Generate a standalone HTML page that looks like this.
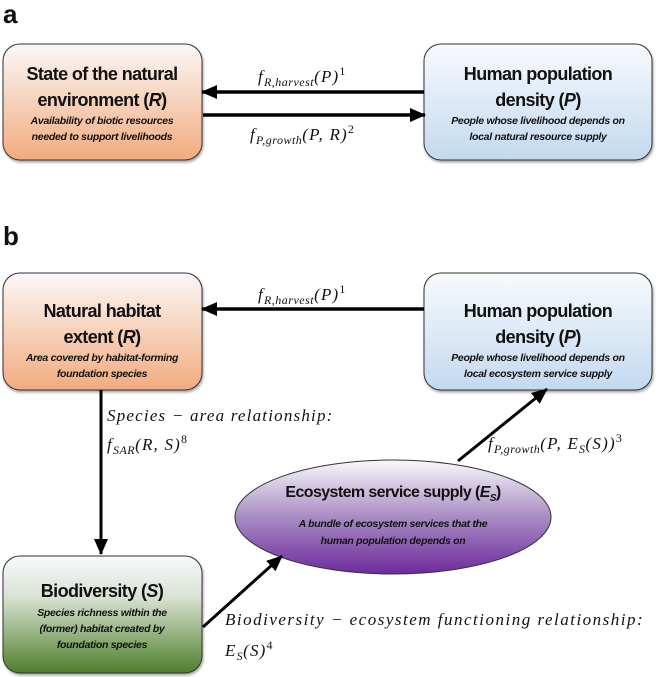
<!DOCTYPE html>
<html><head><meta charset="utf-8"><style>
html,body{margin:0;padding:0;background:#fff}
svg{display:block}
.t{font-family:"Liberation Sans",sans-serif;font-weight:bold;font-size:18px;fill:#111;text-anchor:middle;letter-spacing:-0.6px}
.s{font-family:"Liberation Sans",sans-serif;font-weight:bold;font-style:italic;font-size:10.5px;fill:#111;text-anchor:middle;letter-spacing:-0.3px}
.m{font-family:"Liberation Serif",serif;font-style:italic;font-size:17px;fill:#111;letter-spacing:1.2px}
.sub{font-size:12px;letter-spacing:0.5px}
.L{font-family:"Liberation Sans",sans-serif;font-weight:bold;font-size:26px;fill:#111}
</style></head><body>
<svg width="661" height="677" viewBox="0 0 661 677" xmlns="http://www.w3.org/2000/svg">
<defs>
<linearGradient id="or" x1="0" y1="0" x2="0" y2="1"><stop offset="0" stop-color="#fbf7f8"/><stop offset="1" stop-color="#f2ab7e"/></linearGradient>
<linearGradient id="bl" x1="0" y1="0" x2="0" y2="1"><stop offset="0" stop-color="#f7fafd"/><stop offset="1" stop-color="#c3d9ef"/></linearGradient>
<linearGradient id="gr" x1="0" y1="0" x2="0" y2="1"><stop offset="0" stop-color="#f7fafb"/><stop offset="0.35" stop-color="#d8e2d2"/><stop offset="1" stop-color="#4f7f2c"/></linearGradient>
<linearGradient id="pu" x1="0" y1="0" x2="0" y2="1"><stop offset="0" stop-color="#f8f9fc"/><stop offset="0.5" stop-color="#a88cc3"/><stop offset="1" stop-color="#6e2a9c"/></linearGradient>
<marker id="ah" markerWidth="16" markerHeight="14" refX="15" refY="7" orient="auto" markerUnits="userSpaceOnUse" viewBox="0 0 16 14"><path d="M0,0 L16,7 L0,14 z" fill="#000"/></marker>
<filter id="sh" x="-5%" y="-5%" width="110%" height="115%"><feDropShadow dx="1" dy="2" stdDeviation="1.2" flood-opacity="0.35"/></filter>
</defs>
<text class="L" x="3" y="23">a</text>
<text class="L" x="3" y="245">b</text>

<!-- panel a -->
<rect x="3" y="44" width="199" height="116" rx="17" fill="url(#or)" stroke="#333" stroke-width="1" filter="url(#sh)"/>
<text class="t" x="102" y="80">State of the natural</text>
<text class="t" x="102" y="106">environment (<tspan font-style="italic">R</tspan>)</text>
<text class="s" x="102" y="124">Availability of biotic resources</text>
<text class="s" x="102" y="140">needed to support livelihoods</text>

<rect x="424" y="44" width="228" height="116" rx="17" fill="url(#bl)" stroke="#333" stroke-width="1" filter="url(#sh)"/>
<text class="t" x="538" y="80">Human population</text>
<text class="t" x="538" y="106">density (<tspan font-style="italic">P</tspan>)</text>
<text class="s" x="538" y="124">People whose livelihood depends on</text>
<text class="s" x="538" y="140">local natural resource supply</text>

<line x1="424" y1="92" x2="202" y2="92" stroke="#000" stroke-width="3.5" marker-end="url(#ah)"/>
<line x1="203" y1="115" x2="425" y2="115" stroke="#000" stroke-width="3.5" marker-end="url(#ah)"/>
<text class="m" x="258" y="82">f<tspan class="sub" dy="4">R,harvest</tspan><tspan dy="-4">(P)</tspan><tspan class="sub" dy="-7" font-style="normal">1</tspan></text>
<text class="m" x="250" y="140">f<tspan class="sub" dy="4">P,growth</tspan><tspan dy="-4">(P, R)</tspan><tspan class="sub" dy="-7" font-style="normal">2</tspan></text>

<!-- panel b -->
<rect x="3" y="273" width="199" height="117" rx="17" fill="url(#or)" stroke="#333" stroke-width="1" filter="url(#sh)"/>
<text class="t" x="102" y="317">Natural habitat</text>
<text class="t" x="102" y="343">extent (<tspan font-style="italic">R</tspan>)</text>
<text class="s" x="102" y="361">Area covered by habitat-forming</text>
<text class="s" x="102" y="377">foundation species</text>

<rect x="424" y="273" width="228" height="117" rx="17" fill="url(#bl)" stroke="#333" stroke-width="1" filter="url(#sh)"/>
<text class="t" x="538" y="317">Human population</text>
<text class="t" x="538" y="343">density (<tspan font-style="italic">P</tspan>)</text>
<text class="s" x="538" y="361">People whose livelihood depends on</text>
<text class="s" x="538" y="377">local ecosystem service supply</text>

<line x1="424" y1="309" x2="202" y2="309" stroke="#000" stroke-width="3.5" marker-end="url(#ah)"/>
<text class="m" x="258" y="300">f<tspan class="sub" dy="4">R,harvest</tspan><tspan dy="-4">(P)</tspan><tspan class="sub" dy="-7" font-style="normal">1</tspan></text>

<line x1="101" y1="390" x2="101" y2="554" stroke="#000" stroke-width="3" marker-end="url(#ah)"/>
<text class="m" x="107" y="421">Species − area relationship:</text>
<text class="m" x="107" y="450">f<tspan class="sub" dy="4">SAR</tspan><tspan dy="-4">(R, S)</tspan><tspan class="sub" dy="-7" font-style="normal">8</tspan></text>

<ellipse cx="393" cy="517" rx="158" ry="57" fill="url(#pu)" stroke="#333" stroke-width="1"/>
<text class="t" x="393" y="497" style="font-size:16px">Ecosystem service supply (<tspan font-style="italic">E</tspan><tspan font-style="italic" font-size="10" dy="4">S</tspan><tspan dy="-4">)</tspan></text>
<text class="s" x="393" y="527">A bundle of ecosystem services that the</text>
<text class="s" x="393" y="544">human population depends on</text>

<line x1="458" y1="461" x2="547" y2="389" stroke="#000" stroke-width="3" marker-end="url(#ah)"/>
<text class="m" x="488" y="449">f<tspan class="sub" dy="4">P,growth</tspan><tspan dy="-4">(P, E</tspan><tspan class="sub" dy="4">S</tspan><tspan dy="-4">(S))</tspan><tspan class="sub" dy="-7" font-style="normal">3</tspan></text>

<rect x="3" y="556" width="199" height="117" rx="17" fill="url(#gr)" stroke="#333" stroke-width="1" filter="url(#sh)"/>
<text class="t" x="102" y="597">Biodiversity (<tspan font-style="italic">S</tspan>)</text>
<text class="s" x="102" y="616">Species richness within the</text>
<text class="s" x="102" y="632">(former) habitat created by</text>
<text class="s" x="102" y="648">foundation species</text>

<line x1="203" y1="627" x2="282" y2="556" stroke="#000" stroke-width="3" marker-end="url(#ah)"/>
<text class="m" x="225" y="625" style="letter-spacing:1.5px">Biodiversity − ecosystem functioning relationship:</text>
<text class="m" x="225" y="656">E<tspan class="sub" dy="4">S</tspan><tspan dy="-4">(S)</tspan><tspan class="sub" dy="-7" font-style="normal">4</tspan></text>
</svg>
</body></html>
